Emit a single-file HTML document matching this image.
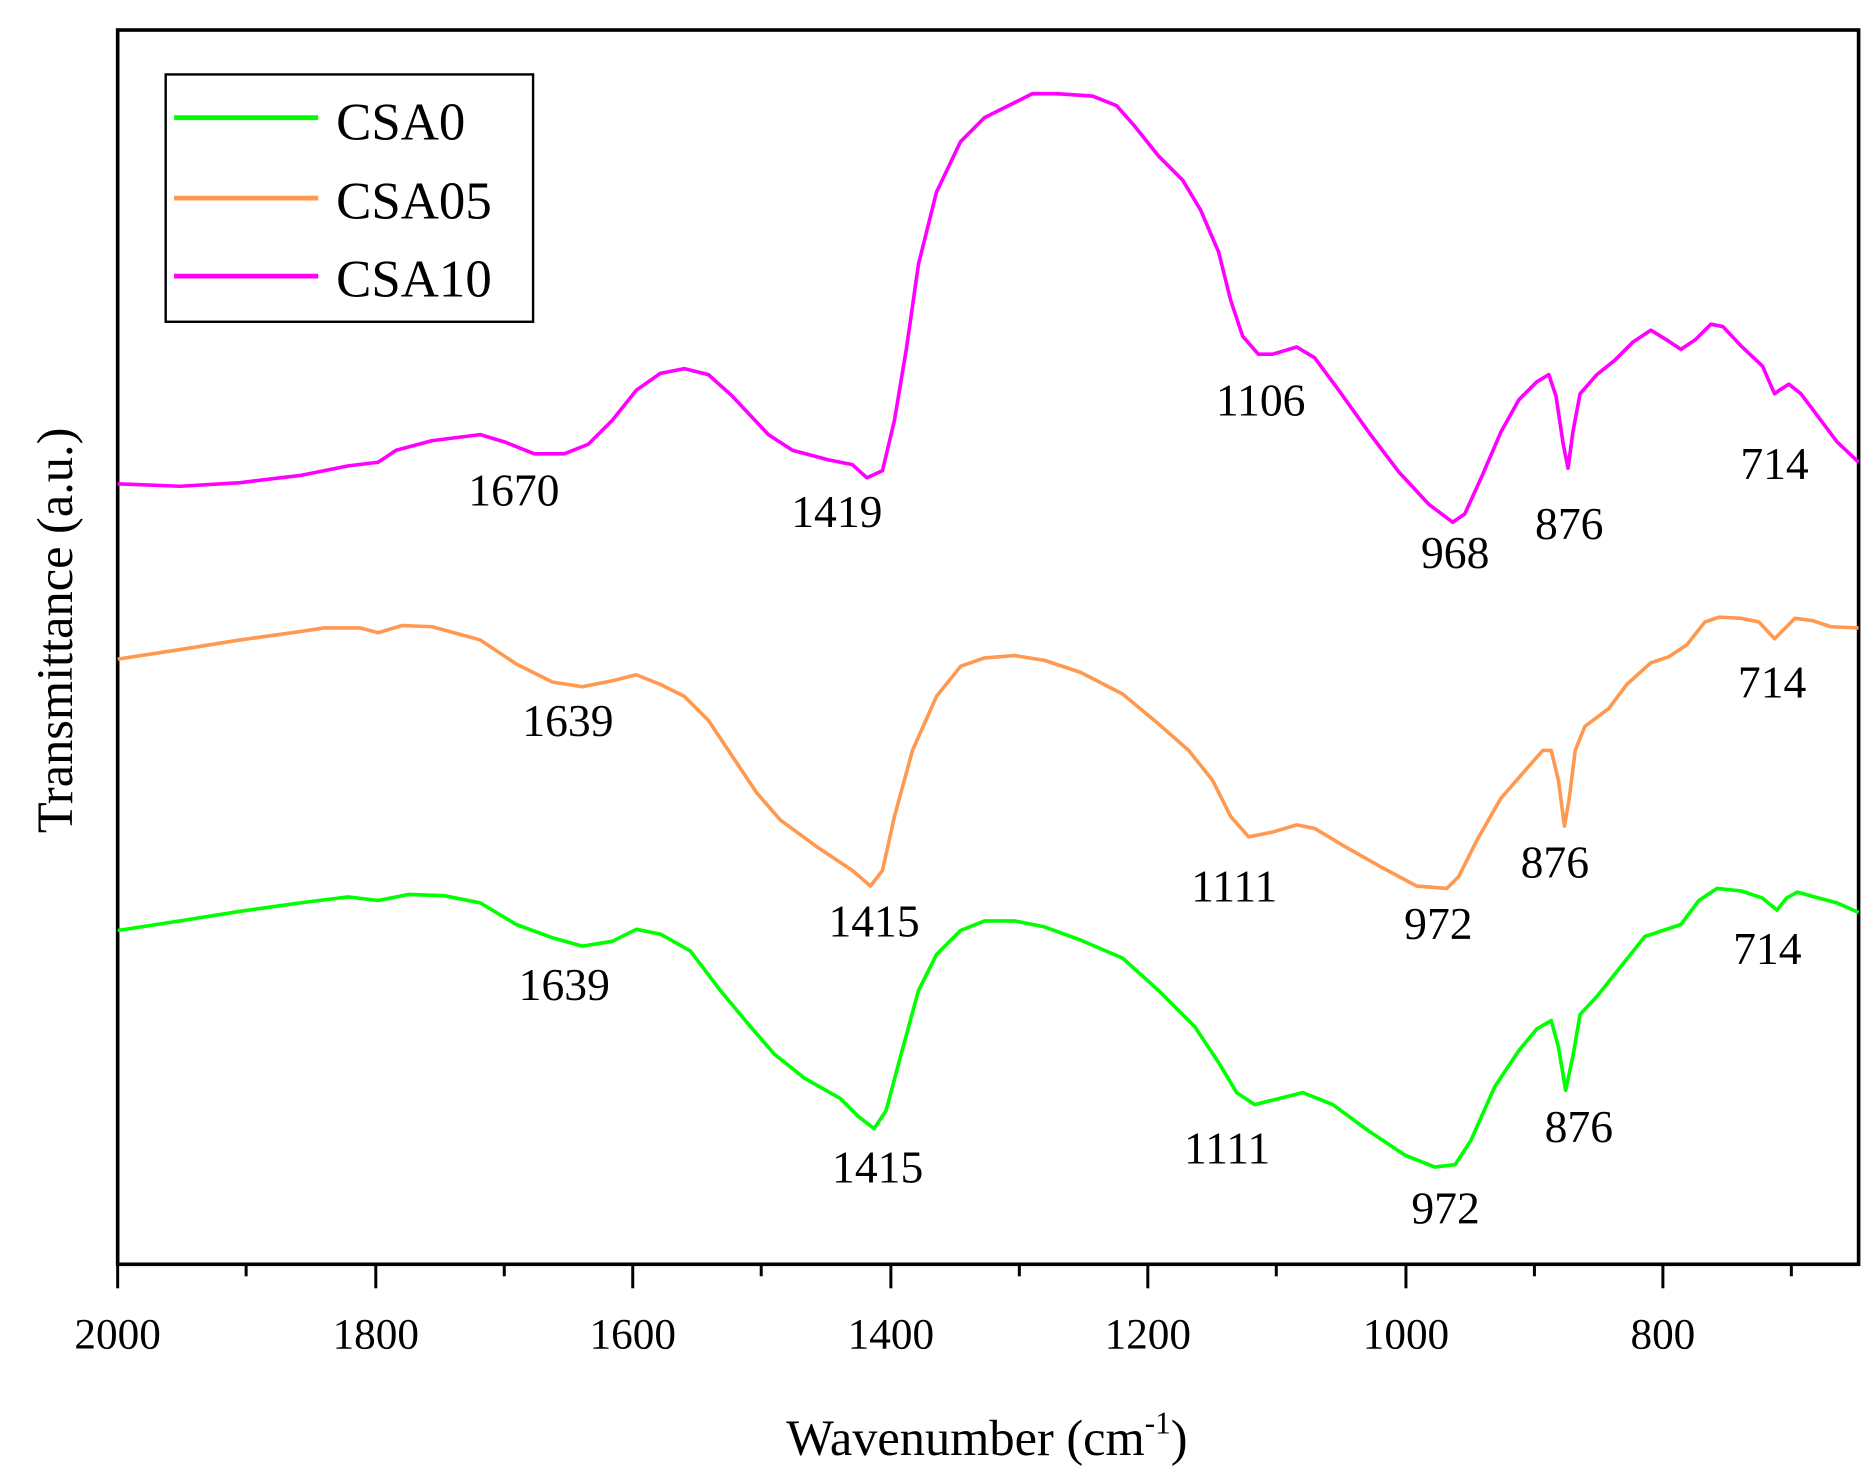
<!DOCTYPE html>
<html><head><meta charset="utf-8"><style>html,body{margin:0;padding:0;background:#fff}svg{display:block}text{font-family:"Liberation Serif",serif;fill:#000}</style></head>
<body>
<svg width="1873" height="1484" viewBox="0 0 1560 1236" preserveAspectRatio="none" xmlns="http://www.w3.org/2000/svg">
<rect x="98" y="25" width="1450" height="1028" fill="none" stroke="#000" stroke-width="3"/>
<g stroke="#000" stroke-width="2.5">
<line x1="98" y1="1053" x2="98" y2="1073"/><line x1="205" y1="1053" x2="205" y2="1063"/>
<line x1="313" y1="1053" x2="313" y2="1073"/><line x1="420" y1="1053" x2="420" y2="1063"/>
<line x1="527" y1="1053" x2="527" y2="1073"/><line x1="634" y1="1053" x2="634" y2="1063"/>
<line x1="742" y1="1053" x2="742" y2="1073"/><line x1="849" y1="1053" x2="849" y2="1063"/>
<line x1="956" y1="1053" x2="956" y2="1073"/><line x1="1063" y1="1053" x2="1063" y2="1063"/>
<line x1="1171" y1="1053" x2="1171" y2="1073"/><line x1="1278" y1="1053" x2="1278" y2="1063"/>
<line x1="1385" y1="1053" x2="1385" y2="1073"/><line x1="1492" y1="1053" x2="1492" y2="1063"/>
</g>
<g font-size="36" text-anchor="middle">
<text x="98" y="1123">2000</text><text x="313" y="1123">1800</text><text x="527" y="1123">1600</text><text x="742" y="1123">1400</text><text x="956" y="1123">1200</text><text x="1171" y="1123">1000</text><text x="1385" y="1123">800</text>
</g>
<text x="822" y="1212" font-size="42" text-anchor="middle">Wavenumber (cm<tspan dy="-18" font-size="26">-1</tspan><tspan dy="18">)</tspan></text>
<text transform="translate(60,525) rotate(-90)" font-size="42" text-anchor="middle">Transmittance (a.u.)</text>
<rect x="138" y="62" width="306" height="206" fill="#fff" stroke="#000" stroke-width="2"/>
<line x1="145" y1="98" x2="265" y2="98" stroke="#00ff00" stroke-width="4"/>
<line x1="145" y1="165" x2="265" y2="165" stroke="#ff9950" stroke-width="4"/>
<line x1="145" y1="230" x2="265" y2="230" stroke="#ff00ff" stroke-width="4"/>
<g font-size="44"><text x="280" y="116">CSA0</text><text x="280" y="182">CSA05</text><text x="280" y="247">CSA10</text></g>
<g fill="none" stroke-width="3" stroke-linejoin="round">
<polyline stroke="#ff00ff" points="98,403 150,405 200,402 250,396 290,388 315,385 330,375 360,367 400,362 420,368 445,378 470,378 490,370 510,350 530,325 550,311 570,307 590,312 610,330 640,362 660,375 690,383 710,387 722,398 735,392 745,350 755,290 765,220 780,160 800,118 820,98 840,88 860,78 880,78 910,80 930,88 945,105 965,130 985,150 1000,175 1015,210 1025,250 1035,280 1048,295 1060,295 1080,289 1095,298 1115,325 1140,360 1165,393 1190,420 1210,435 1220,428 1235,395 1250,360 1265,333 1280,318 1290,312 1296,330 1302,370 1306,390 1310,360 1316,328 1330,312 1345,300 1360,285 1375,275 1388,283 1400,291 1412,283 1425,270 1435,272 1450,288 1468,305 1478,328 1482,325 1490,320 1500,328 1515,348 1530,368 1548,385"/>
<polyline stroke="#ff9950" points="98,549 150,541 200,533 250,526 270,523 300,523 315,527 335,521 360,522 400,533 430,553 460,568 485,572 510,567 530,562 550,570 570,580 590,600 610,630 630,660 650,683 680,705 710,725 725,738 735,725 745,680 760,625 780,580 800,555 820,548 845,546 870,550 900,560 935,578 965,603 990,625 1010,650 1025,680 1040,697 1060,693 1080,687 1095,690 1120,705 1150,722 1180,738 1205,740 1215,730 1230,700 1250,665 1270,642 1285,625 1292,625 1298,650 1303,688 1307,665 1312,625 1320,605 1340,590 1355,570 1375,552 1390,547 1405,537 1420,518 1432,514 1450,515 1465,518 1478,532 1485,525 1495,515 1510,517 1525,522 1548,523"/>
<polyline stroke="#00ff00" points="98,775 150,767 200,759 250,752 290,747 315,750 340,745 370,746 400,752 430,770 460,781 485,788 510,784 530,774 550,778 575,792 600,825 625,855 645,878 670,898 700,915 715,930 728,940 738,925 750,880 765,825 780,795 800,775 820,767 845,767 870,772 900,783 935,798 965,825 995,855 1015,885 1030,910 1045,920 1065,915 1085,910 1110,920 1140,942 1170,962 1195,972 1212,970 1225,950 1245,905 1265,875 1280,857 1292,850 1298,872 1304,908 1310,880 1316,845 1330,830 1350,805 1370,780 1385,775 1400,770 1415,750 1430,740 1450,742 1468,748 1480,758 1488,748 1497,743 1515,748 1530,752 1548,760"/>
</g>
<g font-size="38" text-anchor="middle">
<text x="428" y="421">1670</text><text x="697" y="439">1419</text><text x="1050" y="346">1106</text><text x="1212" y="473">968</text><text x="1307" y="449">876</text><text x="1478" y="399">714</text>
<text x="473" y="613">1639</text><text x="728" y="780">1415</text><text x="1028" y="751">1111</text><text x="1198" y="782">972</text><text x="1295" y="731">876</text><text x="1476" y="581">714</text>
<text x="470" y="833">1639</text><text x="731" y="985">1415</text><text x="1022" y="969">1111</text><text x="1204" y="1019">972</text><text x="1315" y="951">876</text><text x="1472" y="803">714</text>
</g>
</svg>
</body></html>
